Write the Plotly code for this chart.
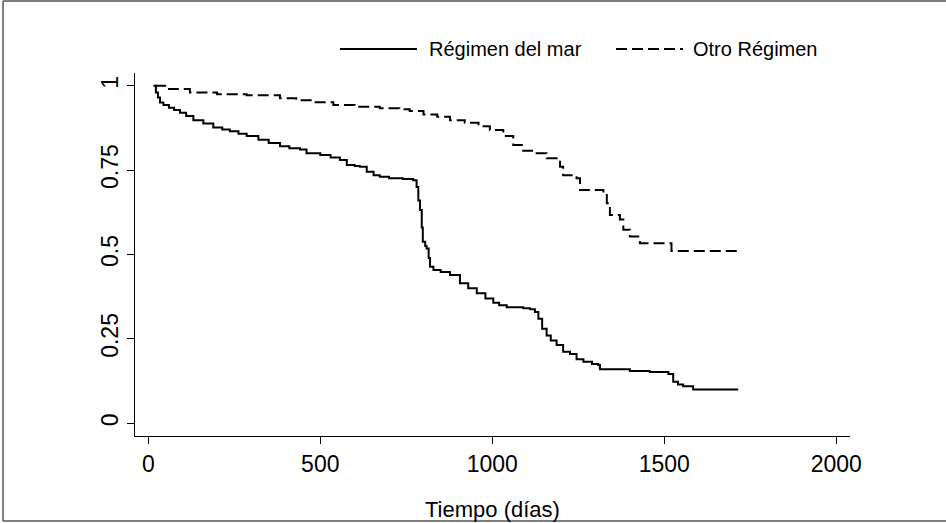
import plotly.graph_objects as go

# Kaplan-Meier style survival estimates
times_mar = [15, 22, 28, 34, 44, 60, 75, 92, 110, 131, 160, 189, 215, 237, 262, 286, 320, 350, 383, 410,
             441, 460, 500, 530, 557, 577, 600, 615, 635, 655, 673, 700, 740, 770, 780, 785, 790, 795, 798, 805,
             809, 815, 819, 829, 850, 877, 906, 930, 955, 980, 1003, 1020, 1042, 1090, 1110, 1124, 1134, 1145, 1158, 1170,
             1187, 1206, 1226, 1245, 1265, 1290, 1308, 1313, 1400, 1458, 1512, 1526, 1540, 1555, 1584, 1715]
surv_mar = [1.0, 0.98, 0.965, 0.95, 0.943, 0.935, 0.928, 0.92, 0.91, 0.898, 0.888, 0.876, 0.87, 0.865, 0.858, 0.851, 0.84, 0.83, 0.821, 0.815,
            0.811, 0.80, 0.795, 0.787, 0.78, 0.765, 0.762, 0.76, 0.745, 0.735, 0.730, 0.726, 0.724, 0.72, 0.70, 0.66, 0.632, 0.58, 0.538, 0.525,
            0.518, 0.49, 0.464, 0.454, 0.448, 0.439, 0.415, 0.40, 0.385, 0.37, 0.357, 0.35, 0.344, 0.341, 0.338, 0.33, 0.31, 0.28, 0.26, 0.245,
            0.232, 0.212, 0.205, 0.19, 0.182, 0.176, 0.173, 0.16, 0.155, 0.152, 0.146, 0.123, 0.115, 0.11, 0.10, 0.10]

times_otro = [20, 60, 121, 200, 286, 383, 430, 480, 538, 600, 673, 730, 760, 800, 840, 877, 920, 960, 993, 1032,
              1061, 1090, 1129, 1158, 1197, 1206, 1245, 1255, 1323, 1333, 1342, 1371, 1381, 1400, 1429, 1521, 1715]
surv_otro = [1.0, 0.99, 0.98, 0.975, 0.972, 0.963, 0.957, 0.951, 0.943, 0.938, 0.933, 0.93, 0.925, 0.915, 0.908, 0.898, 0.89, 0.88, 0.869, 0.851,
             0.824, 0.807, 0.80, 0.785, 0.76, 0.735, 0.726, 0.691, 0.681, 0.652, 0.617, 0.604, 0.573, 0.553, 0.533, 0.51, 0.51]

series_names = ["Régimen del mar", "Otro Régimen"]
x_ticks = [0, 500, 1000, 1500, 2000]
y_ticks = [0, 0.25, 0.5, 0.75, 1]
y_ticklabels = ["0", "0.25", "0.5", "0.75", "1"]
x_title = "Tiempo (días)"

FONT = "Liberation Sans, Arial, Helvetica, sans-serif"
DASH = "11px,5px"

fig = go.Figure()
fig.add_trace(go.Scatter(x=times_mar, y=surv_mar, mode="lines", name=series_names[0],
                         line=dict(color="black", width=2, shape="hv"), showlegend=False))
fig.add_trace(go.Scatter(x=times_otro, y=surv_otro, mode="lines", name=series_names[1],
                         line=dict(color="black", width=2, shape="hv", dash=DASH), showlegend=False))

L, R, T, B = 135, 96, 73, 87
W, H = 946, 523
PW, PH = W - L - R, H - T - B

def px(x):
    return (x - L) / PW

def py(y):
    return (H - B - y) / PH

shapes = []
# frame around the whole graph
shapes.append(dict(type="line", xref="paper", yref="paper", x0=px(3), x1=px(3), y0=py(1), y1=py(521),
                   line=dict(color="#555555", width=1.5)))
shapes.append(dict(type="line", xref="paper", yref="paper", x0=px(3), x1=px(946), y0=py(1), y1=py(1),
                   line=dict(color="#555555", width=1.5)))
shapes.append(dict(type="line", xref="paper", yref="paper", x0=px(3), x1=px(946), y0=py(521), y1=py(521),
                   line=dict(color="#555555", width=1.5)))
# legend samples
leg_y = 49
shapes.append(dict(type="line", xref="paper", yref="paper", x0=px(340), x1=px(417), y0=py(leg_y), y1=py(leg_y),
                   line=dict(color="black", width=2)))
shapes.append(dict(type="line", xref="paper", yref="paper", x0=px(616), x1=px(683), y0=py(leg_y), y1=py(leg_y),
                   line=dict(color="black", width=2, dash=DASH)))

annotations = [
    dict(text=series_names[0], xref="paper", yref="paper", x=px(427), y=py(leg_y), xanchor="left", yanchor="middle",
         showarrow=False, font=dict(family=FONT, size=20, color="black")),
    dict(text=series_names[1], xref="paper", yref="paper", x=px(691), y=py(leg_y), xanchor="left", yanchor="middle",
         showarrow=False, font=dict(family=FONT, size=20, color="black")),
    dict(text=x_title, xref="paper", yref="paper", x=0.5, y=py(509), xanchor="center", yanchor="middle",
         showarrow=False, font=dict(family=FONT, size=22, color="black")),
]

fig.update_layout(
    width=W, height=H,
    margin=dict(l=L, r=R, t=T, b=B, pad=0),
    paper_bgcolor="white", plot_bgcolor="white",
    font=dict(family=FONT, size=23, color="black"),
    shapes=shapes, annotations=annotations,
    showlegend=False,
)
fig.update_xaxes(range=[-38.7, 2040], tickvals=x_ticks, ticks="outside", ticklen=7, tickwidth=1.2,
                 tickcolor="black", showline=True, linecolor="black", linewidth=1.2, showgrid=False,
                 zeroline=False, tickfont=dict(family=FONT, size=23, color="black"))
fig.update_yaxes(range=[-0.0376, 1.0376], tickvals=y_ticks, ticktext=y_ticklabels, ticks="outside", ticklen=7,
                 tickwidth=1.2, tickcolor="black", showline=True, linecolor="black", linewidth=1.2,
                 showgrid=False, zeroline=False, tickangle=-90, tickfont=dict(family=FONT, size=23, color="black"))

fig.write_html("out.html")
